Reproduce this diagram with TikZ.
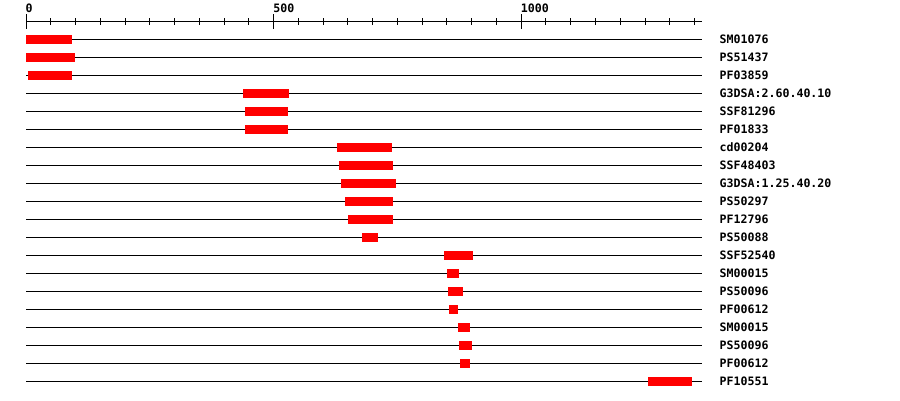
\documentclass[tikz,border=0pt]{standalone}
\usepackage{fontspec}
\setmonofont{DejaVu Sans Mono}
\begin{document}
\begin{tikzpicture}[x=1pt,y=-1pt,
  lbl/.style={font=\ttfamily\bfseries\fontsize{11.6}{12}\selectfont, inner sep=0pt, anchor=base west},
  rowline/.style={line width=1pt, black},
  barfill/.style={fill=red, draw=none}]
\useasboundingbox (0,0) rectangle (900,400);
% axis
\coordinate (axL) at (26,21.3);
\coordinate (axR) at (701.5,21.3);
\draw[rowline] (axL) -- (axR);
\foreach \i in {0,...,27} {
  \pgfmathsetmacro\xx{26+\i*24.76}
  \draw[rowline] (\xx,18) -- (\xx,24.7);
}
\foreach \v/\xx in {0/26,500/273.6,1000/521.2} {
  \draw[rowline] (\xx,14) -- (\xx,29);
  \node[lbl] (ax\v) at (\xx-0.5,12.4) {\v};
}
% rows
\foreach \lab/\a/\b [count=\n] in {
  SM01076/26/72, PS51437/26/75, PF03859/28/72,
  G3DSA:2.60.40.10/243/289, SSF81296/245/288, PF01833/245/288,
  cd00204/337/392, SSF48403/339/393, G3DSA:1.25.40.20/341/396,
  PS50297/345/393, PF12796/348/393, PS50088/362/378,
  SSF52540/444/473, SM00015/447/459, PS50096/448/463,
  PF00612/449/458, SM00015/458/470, PS50096/459/472,
  PF00612/460/470, PF10551/648/692} {
  \pgfmathsetmacro\yy{39.3+(\n-1)*18}
  \coordinate (rs\n) at (26,\yy);
  \coordinate (re\n) at (701.5,\yy);
  \draw[rowline] (rs\n) -- (re\n);
  \fill[barfill] (\a,\yy-4.6) rectangle (\b,\yy+4.7);
  \node[lbl] (lab\n) at (719.5,\yy+4.1) {\lab};
}
\end{tikzpicture}
\end{document}
